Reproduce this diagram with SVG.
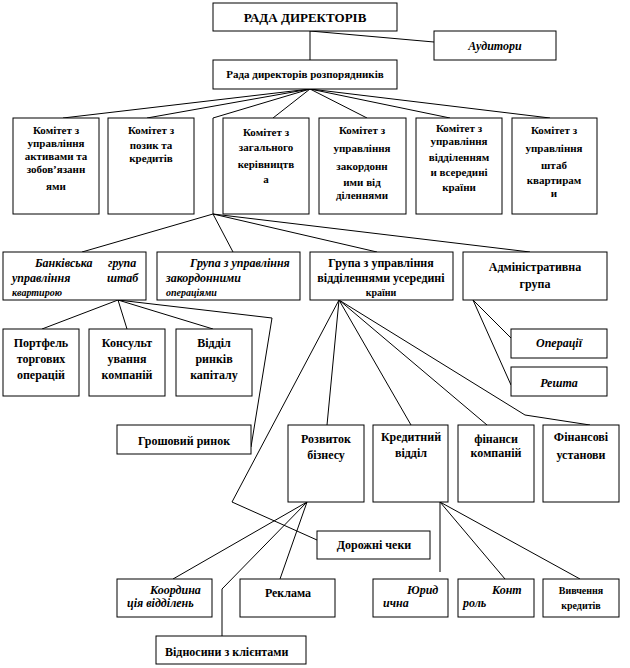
<svg xmlns="http://www.w3.org/2000/svg" width="630" height="668" viewBox="0 0 630 668">
<style>
rect{fill:#fff;stroke:#000;stroke-width:1}
text{font-family:"Liberation Serif","Times New Roman",serif;font-weight:bold;font-size:12px;fill:#000}
.c{text-anchor:middle}
.i{font-style:italic}
.s{font-size:10px}
.m{font-size:11px}
#connectors line,#connectors polyline{stroke:#000;stroke-width:1;fill:none}
</style>
<rect x="0" y="0" width="630" height="668" style="stroke:none"/>
<g id="connectors">
<line x1="310" y1="31" x2="310" y2="60"/>
<line x1="310" y1="31" x2="434" y2="42"/>
<line x1="310" y1="89" x2="63" y2="118"/>
<line x1="310" y1="89" x2="147" y2="118"/>
<polyline points="310,89 213,118 213,214"/>
<line x1="310" y1="89" x2="273" y2="118"/>
<line x1="310" y1="89" x2="367" y2="118"/>
<line x1="310" y1="89" x2="450" y2="118"/>
<line x1="310" y1="89" x2="550" y2="118"/>
<line x1="213" y1="214" x2="82" y2="252"/>
<line x1="213" y1="214" x2="233" y2="252"/>
<line x1="213" y1="214" x2="377" y2="252"/>
<line x1="213" y1="214" x2="530" y2="252"/>
<line x1="118" y1="300" x2="42" y2="329"/>
<line x1="118" y1="300" x2="127" y2="329"/>
<line x1="118" y1="300" x2="213" y2="329"/>
<polyline points="118,300 272,318 251,447"/>
<line x1="473" y1="300" x2="511" y2="338"/>
<line x1="473" y1="300" x2="511" y2="385"/>
<polyline points="339,300 232,502 317,540"/>
<line x1="339" y1="300" x2="327" y2="425"/>
<line x1="339" y1="300" x2="411" y2="425"/>
<line x1="339" y1="300" x2="487" y2="425"/>
<polyline points="339,300 525,415 590,425"/>
<line x1="307" y1="502" x2="173" y2="579"/>
<polyline points="307,502 222,589 222,636"/>
<line x1="307" y1="502" x2="280" y2="579"/>
<line x1="440" y1="502" x2="440" y2="572"/>
<line x1="440" y1="502" x2="505" y2="579"/>
<line x1="440" y1="502" x2="580" y2="579"/>
</g>
<g id="board"><rect x="213" y="3" width="184" height="28"/><text class="c" x="305" y="22" style="font-size:13px">РАДА ДИРЕКТОРІВ</text></g>
<g id="auditors"><rect x="434" y="31" width="122" height="29"/><text class="c i" x="495" y="50">Аудитори</text></g>
<g id="exec-board"><rect x="213" y="60" width="184" height="29"/><text class="c m" x="305" y="78">Рада директорів розпорядників</text></g>
<g id="com1"><rect x="13" y="118" width="86" height="96"/><text class="c m" x="56"><tspan x="56" y="134">Комітет з</tspan><tspan x="56" y="147">управління</tspan><tspan x="56" y="160">активами та</tspan><tspan x="56" y="173">зобов’язанн</tspan><tspan x="56" y="190">ями</tspan></text></g>
<g id="com2"><rect x="108" y="118" width="86" height="96"/><text class="c m" x="151"><tspan x="151" y="134">Комітет з</tspan><tspan x="151" y="149">позик та</tspan><tspan x="151" y="162">кредитів</tspan></text></g>
<g id="com3"><rect x="223" y="118" width="86" height="96"/><text class="c m" x="266"><tspan x="266" y="136">Комітет з</tspan><tspan x="266" y="151">загального</tspan><tspan x="266" y="168">керівництв</tspan><tspan x="266" y="183">а</tspan></text></g>
<g id="com4"><rect x="319" y="118" width="87" height="96"/><text class="c m" x="362"><tspan x="362" y="134">Комітет з</tspan><tspan x="362" y="152">управління</tspan><tspan x="362" y="170">закордонн</tspan><tspan x="362" y="186">ими від</tspan><tspan x="362" y="199">діленнями</tspan></text></g>
<g id="com5"><rect x="416" y="118" width="86" height="96"/><text class="c m" x="459"><tspan x="459" y="132">Комітет з</tspan><tspan x="459" y="145">управління</tspan><tspan x="459" y="161">відділенням</tspan><tspan x="459" y="176">и всередині</tspan><tspan x="459" y="191">країни</tspan></text></g>
<g id="com6"><rect x="512" y="118" width="85" height="96"/><text class="c m" x="554"><tspan x="554" y="134">Комітет з</tspan><tspan x="554" y="152">управління</tspan><tspan x="554" y="169">штаб</tspan><tspan x="554" y="184">квартирам</tspan><tspan x="554" y="197">и</tspan></text></g>
<g id="bank-group"><rect x="3" y="252" width="143" height="48"/><text class="i"><tspan x="35" y="267">Банківська</tspan><tspan x="108" y="267">група</tspan><tspan x="12" y="282">управління</tspan><tspan x="107" y="282">штаб</tspan><tspan x="12" y="296" class="s">квартирою</tspan></text></g>
<g id="foreign-group"><rect x="157" y="252" width="143" height="48"/><text class="i"><tspan x="190" y="267">Група з управління</tspan><tspan x="166" y="282">закордонними</tspan><tspan x="166" y="296" class="s">операціями</tspan></text></g>
<g id="domestic-group"><rect x="310" y="252" width="143" height="48"/><text class="c"><tspan x="381" y="267">Група з управління</tspan><tspan x="381" y="282">відділеннями  усередині</tspan><tspan x="381" y="296" class="s">країни</tspan></text></g>
<g id="admin-group"><rect x="463" y="252" width="144" height="48"/><text class="c"><tspan x="535" y="271">Адміністративна</tspan><tspan x="535" y="288">група</tspan></text></g>
<g id="operations"><rect x="511" y="329" width="96" height="29"/><text class="c i" x="559" y="347">Операції</text></g>
<g id="rest"><rect x="511" y="367" width="96" height="29"/><text class="c i" x="559" y="387">Решта</text></g>
<g id="portfolio"><rect x="3" y="329" width="76" height="67"/><text class="c"><tspan x="41" y="347">Портфель</tspan><tspan x="41" y="363">торгових</tspan><tspan x="41" y="379">операцій</tspan></text></g>
<g id="consulting"><rect x="89" y="329" width="76" height="67"/><text class="c"><tspan x="127" y="347">Консульт</tspan><tspan x="127" y="363">ування</tspan><tspan x="127" y="379">компаній</tspan></text></g>
<g id="capital"><rect x="176" y="329" width="76" height="67"/><text class="c"><tspan x="214" y="347">Відділ</tspan><tspan x="214" y="363">ринків</tspan><tspan x="214" y="379">капіталу</tspan></text></g>
<g id="money-market"><rect x="117" y="425" width="134" height="29"/><text class="c" x="184" y="445">Грошовий ринок</text></g>
<g id="business"><rect x="288" y="425" width="76" height="77"/><text class="c"><tspan x="326" y="443">Розвиток</tspan><tspan x="326" y="459">бізнесу</tspan></text></g>
<g id="credit"><rect x="373" y="425" width="75" height="77"/><text class="c"><tspan x="411" y="441">Кредитний</tspan><tspan x="411" y="457">відділ</tspan></text></g>
<g id="corp-finance"><rect x="458" y="425" width="76" height="77"/><text class="c"><tspan x="496" y="443">фінанси</tspan><tspan x="496" y="457">компаній</tspan></text></g>
<g id="fin-inst"><rect x="543" y="425" width="76" height="77"/><text class="c"><tspan x="581" y="441">Фінансові</tspan><tspan x="581" y="459">установи</tspan></text></g>
<g id="travel-cheques"><rect x="317" y="531" width="113" height="28"/><text class="c" x="374" y="549">Дорожні чеки</text></g>
<g id="coordination"><rect x="117" y="579" width="95" height="38"/><text class="i"><tspan x="150" y="594">Координа</tspan><tspan x="127" y="607">ція відділень</tspan></text></g>
<g id="advertising"><rect x="240" y="579" width="95" height="38"/><text class="c" x="288" y="597">Реклама</text></g>
<g id="legal"><rect x="373" y="579" width="75" height="38"/><text class="i"><tspan x="407" y="594">Юрид</tspan><tspan x="383" y="607">ична</tspan></text></g>
<g id="control"><rect x="458" y="579" width="76" height="38"/><text class="i"><tspan x="492" y="594">Конт</tspan><tspan x="463" y="607">роль</tspan></text></g>
<g id="credit-study"><rect x="543" y="579" width="76" height="38"/><text class="c s"><tspan x="581" y="594">Вивчення</tspan><tspan x="581" y="609">кредитів</tspan></text></g>
<g id="clients"><rect x="156" y="636" width="150" height="28"/><text x="165" y="656">Відносини  з клієнтами</text></g>
</svg>
